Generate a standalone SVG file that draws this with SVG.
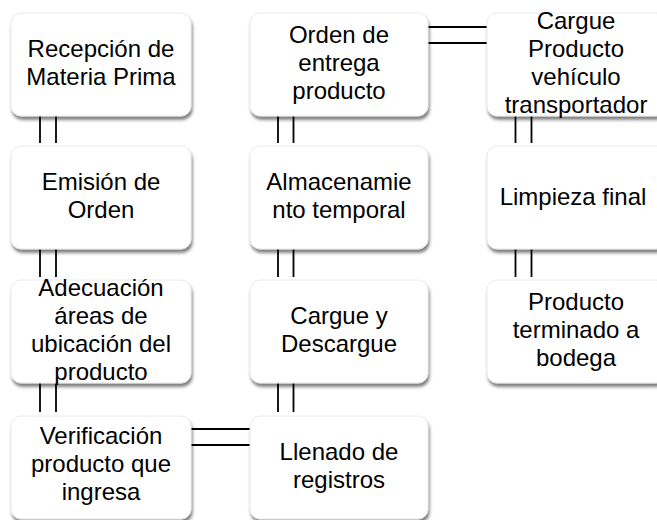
<svg xmlns="http://www.w3.org/2000/svg" width="657" height="520" viewBox="0 0 657 520">
<style>
.box{fill:#fff;stroke:#e4e4e4;stroke-width:0.8;filter:url(#sh)}
.t{font-family:"Liberation Sans",Arial,sans-serif;font-size:24px;fill:#000;text-anchor:middle}
.c{stroke:#000;stroke-width:1.8;fill:none}
</style>
<defs>
<filter id="sh" x="-10%" y="-10%" width="125%" height="130%">
<feDropShadow dx="1.2" dy="3.5" stdDeviation="1.6" flood-color="#000" flood-opacity="0.5"/>
</filter>
</defs>
<rect width="657" height="520" fill="#fff"/>
<g id="connectors" class="c">
<path d="M40,116V143M56,116V143M40,249V277M56,249V277M40,383V412M56,383V412"/>
<path d="M278,116V143M293.5,116V143M278,249V277M293.5,249V277M278,383V412M293.5,383V412"/>
<path d="M515.5,116V143M531.5,116V143M515.5,249V277M531.5,249V277"/>
<path d="M428,27H487M428,43H487"/>
<path d="M191,429H250M191,445H250"/>
</g>
<g id="n1"><rect class="box" x="11" y="13" width="180" height="103" rx="10"/>
<text class="t" x="101"><tspan x="101" y="57">Recepción de</tspan><tspan x="101" y="85">Materia Prima</tspan></text></g>
<g id="n2"><rect class="box" x="11" y="146" width="180" height="103" rx="10"/>
<text class="t"><tspan x="101" y="190">Emisión de</tspan><tspan x="101" y="218">Orden</tspan></text></g>
<g id="n3"><rect class="box" x="11" y="280" width="180" height="103" rx="10"/>
<text class="t"><tspan x="101" y="296">Adecuación</tspan><tspan x="101" y="324">áreas de</tspan><tspan x="101" y="352">ubicación del</tspan><tspan x="101" y="380">producto</tspan></text></g>
<g id="n4"><rect class="box" x="11" y="416" width="180" height="103" rx="10"/>
<text class="t"><tspan x="101" y="444">Verificación</tspan><tspan x="101" y="472">producto que</tspan><tspan x="101" y="500">ingresa</tspan></text></g>
<g id="n5"><rect class="box" x="250" y="13" width="178" height="103" rx="10"/>
<text class="t"><tspan x="339" y="43">Orden de</tspan><tspan x="339" y="71">entrega</tspan><tspan x="339" y="99">producto</tspan></text></g>
<g id="n6"><rect class="box" x="250" y="146" width="178" height="103" rx="10"/>
<text class="t"><tspan x="339" y="190">Almacenamie</tspan><tspan x="339" y="218">nto temporal</tspan></text></g>
<g id="n7"><rect class="box" x="250" y="280" width="178" height="103" rx="10"/>
<text class="t"><tspan x="339" y="324">Cargue y</tspan><tspan x="339" y="352">Descargue</tspan></text></g>
<g id="n8"><rect class="box" x="250" y="416" width="178" height="103" rx="10"/>
<text class="t"><tspan x="339" y="460">Llenado de</tspan><tspan x="339" y="488">registros</tspan></text></g>
<g id="n9"><rect class="box" x="487" y="13" width="179" height="103" rx="10"/>
<text class="t"><tspan x="576" y="29">Cargue</tspan><tspan x="576" y="57">Producto</tspan><tspan x="576" y="85">vehículo</tspan><tspan x="576" y="113">transportador</tspan></text></g>
<g id="n10"><rect class="box" x="487" y="146" width="179" height="103" rx="10"/>
<text class="t"><tspan x="573" y="205">Limpieza final</tspan></text></g>
<g id="n11"><rect class="box" x="487" y="280" width="179" height="103" rx="10"/>
<text class="t"><tspan x="576" y="310">Producto</tspan><tspan x="576" y="338">terminado a</tspan><tspan x="576" y="366">bodega</tspan></text></g>
</svg>
